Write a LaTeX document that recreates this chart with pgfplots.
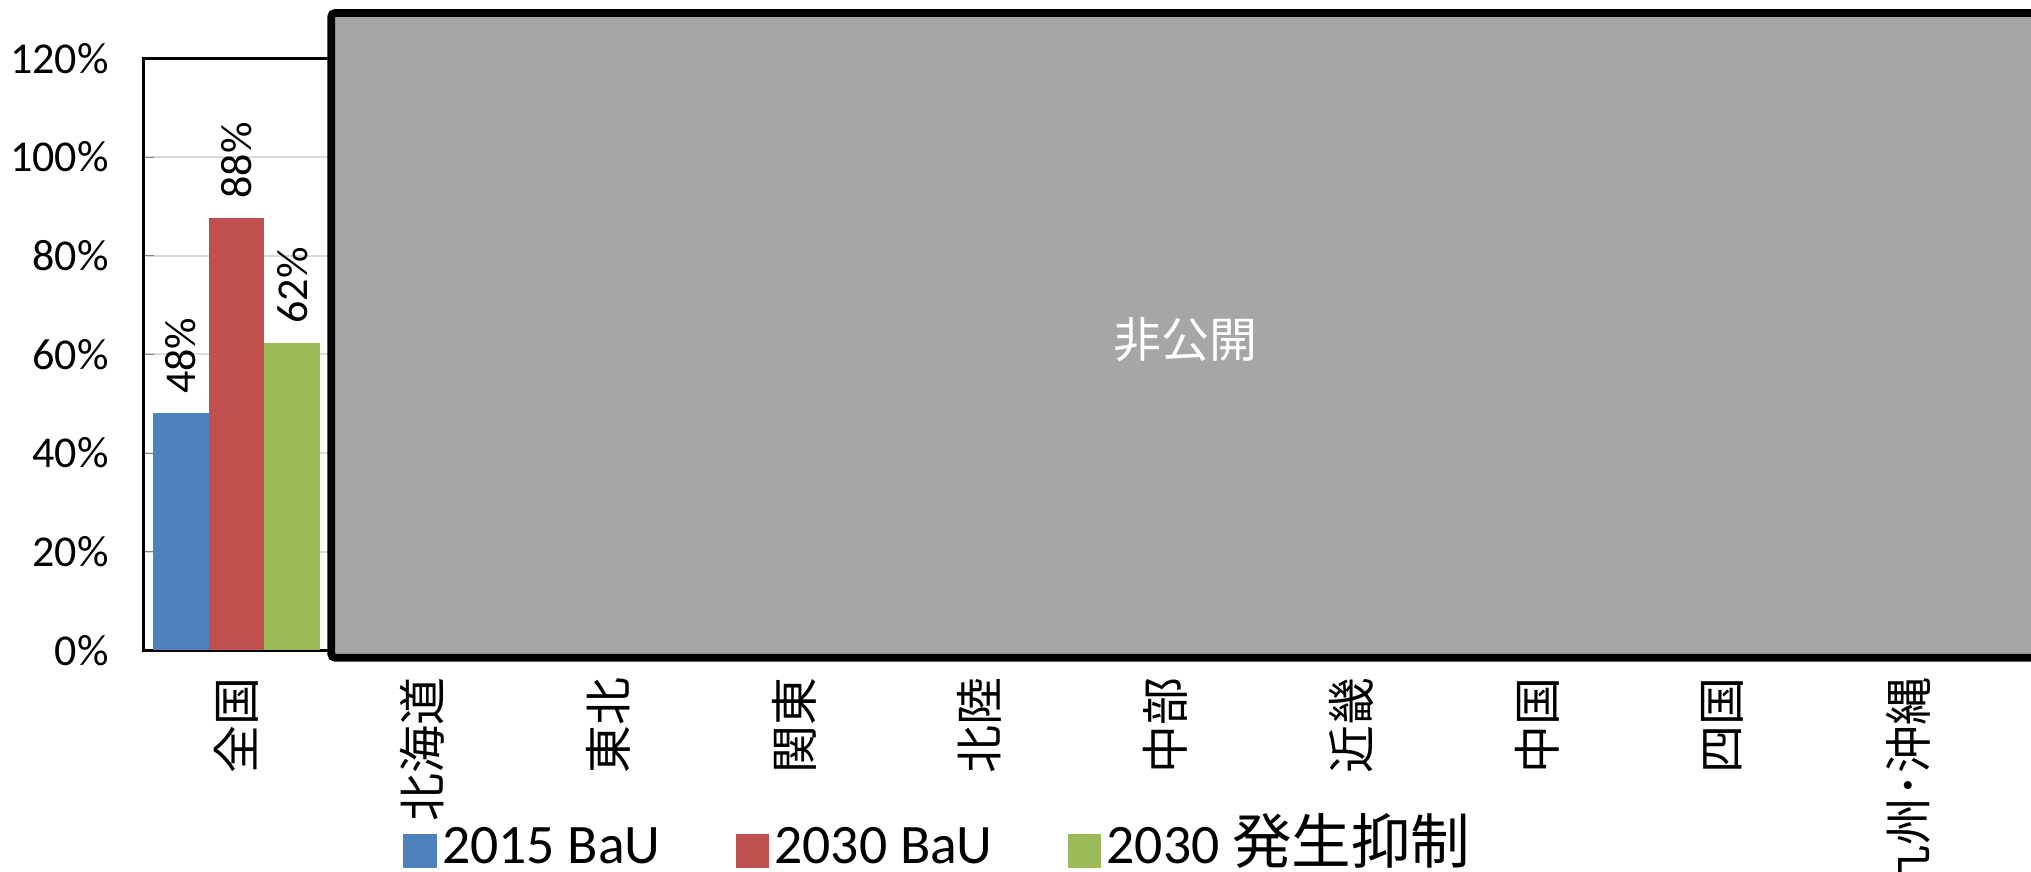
\documentclass[border=0pt]{standalone}
\usepackage{fontspec}
\setmainfont{Carlito}
\newfontfamily\cjk{Noto Sans CJK JP}
\usepackage{pgfplots}
\pgfplotsset{compat=1.18}
\definecolor{cblue}{HTML}{4F81BD}
\definecolor{cred}{HTML}{C0504D}
\definecolor{cgreen}{HTML}{9BBB59}
\definecolor{cgrey}{HTML}{A6A6A6}
\begin{document}
\begin{tikzpicture}
\begin{axis}[
  at={(55.5pt,85.5pt)}, anchor=south west,
  scale only axis, width=717pt, height=228.5pt,
  xmin=-0.5, xmax=9.5, ymin=0, ymax=120,
  ybar=0pt, bar width=21.5pt,
  /pgf/number format/assume math mode=true,
  xtick={0,1,2,3,4,5,6,7,8,9},
  xticklabels={全国,北海道,東北,関東,北陸,中部,近畿,中国,四国,九州･沖縄},
  xticklabel style={font=\cjk\fontsize{18.5}{18.5}\selectfont, yshift=-7pt, rotate=90, anchor=east},
  xtick style={draw=none},
  ytick={0,20,40,60,80,100,120},
  yticklabel={\pgfmathprintnumber{\tick}\%},
  yticklabel style={font=\fontsize{17}{17}\selectfont, xshift=-10pt},
  tick align=inside, ytick pos=left, major tick length=4pt,
  ymajorgrids, grid style={color=gray!30, line width=0.8pt},
  axis line style={line width=1pt},
  nodes near coords={\pgfmathprintnumber[fixed,precision=0]{\pgfplotspointmeta}\%},
  every node near coord/.append style={font=\fontsize{17}{17}\selectfont, yshift=4pt, rotate=90, anchor=west},
  legend style={draw=none, fill=none, at={(0.1395,-0.339)}, anchor=west, legend columns=3,
    font=\fontsize{21.5}{21.5}\selectfont, inner sep=0pt,
    nodes={text height=15pt, text depth=5pt},
    /tikz/every even column/.append style={column sep=27pt}},
  legend image code/.code={\fill[#1] (0pt,-6.5pt) rectangle (13pt,6.5pt);},
]
\addplot[fill=cblue, draw=none] coordinates {(0,48.0)};
\addplot[fill=cred, draw=none] coordinates {(0,87.6)};
\addplot[fill=cgreen, draw=none] coordinates {(0,62.3)};
\legend{2015 BaU, 2030 BaU, 2030 {\cjk\fontsize{23}{23}\selectfont 発生抑制}}
\end{axis}
\draw[line width=3pt, fill=cgrey, rounded corners=1.5pt] (127.85pt,82.6pt) rectangle (800pt,331.5pt);
\node[text=white, font=\cjk\fontsize{18.5}{18.5}\selectfont] at (457.5pt,205.5pt) {非公開};
\pgfresetboundingbox
\path[use as bounding box] (0,0) rectangle (784pt,336.5pt);
\end{tikzpicture}
\end{document}
